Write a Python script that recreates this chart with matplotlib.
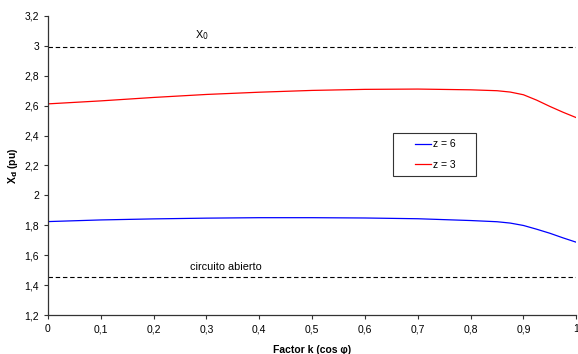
import numpy as np
import matplotlib.pyplot as plt
from matplotlib.patches import Rectangle

plt.rcParams['font.family'] = ['Liberation Sans', 'DejaVu Sans']

k = [0, 0.1, 0.2, 0.3, 0.4, 0.5, 0.6, 0.7, 0.8, 0.85, 0.875, 0.9, 0.925, 0.95, 0.975, 1.0]
xd_z3 = [2.612, 2.632, 2.655, 2.675, 2.690, 2.702, 2.709, 2.711, 2.706, 2.700, 2.691, 2.673, 2.637, 2.595, 2.556, 2.520]
xd_z6 = [1.825, 1.836, 1.843, 1.848, 1.851, 1.851, 1.849, 1.844, 1.832, 1.824, 1.815, 1.799, 1.774, 1.747, 1.716, 1.687]
x0 = 2.995
x_abierto = 1.455

yticks = [1.2, 1.4, 1.6, 1.8, 2.0, 2.2, 2.4, 2.6, 2.8, 3.0, 3.2]
ytick_labels = ['1,2', '1,4', '1,6', '1,8', '2', '2,2', '2,4', '2,6', '2,8', '3', '3,2']
xticks = [0, 0.1, 0.2, 0.3, 0.4, 0.5, 0.6, 0.7, 0.8, 0.9, 1.0]
xtick_labels = ['0', '0,1', '0,2', '0,3', '0,4', '0,5', '0,6', '0,7', '0,8', '0,9', '1']

fig = plt.figure(figsize=(5.78, 3.54), dpi=100)
ax = fig.add_axes([0.083, 0.110, 0.914, 0.845])

ax.plot(k, xd_z6, color='#0000ff', lw=0.9, label='z = 6')
ax.plot(k, xd_z3, color='#ff0000', lw=0.9, label='z = 3')
ax.axhline(x0, color='black', ls=(0, (4, 2.5)), lw=0.8)
ax.axhline(x_abierto, color='black', ls=(0, (4, 2.5)), lw=0.8)

ax.text(0.278, x0 + 0.03, 'X$_0$', fontsize=7.8, ha='left', va='bottom')
ax.text(0.268, x_abierto + 0.03, 'circuito abierto', fontsize=7.8, ha='left', va='bottom')

ax.set_xlim(0, 1)
ax.set_ylim(1.2, 3.2)
ax.set_xticks(xticks)
ax.set_xticklabels(xtick_labels)
ax.set_yticks(yticks)
ax.set_yticklabels(ytick_labels)
ax.tick_params(direction='out', length=3, width=0.8, labelsize=7.5, color='#333333')
for s in ['top', 'right']:
    ax.spines[s].set_visible(False)
for s in ['left', 'bottom']:
    ax.spines[s].set_color('#333333')
    ax.spines[s].set_linewidth(0.9)

ax.set_xlabel('Factor k (cos φ)', fontsize=7.5, fontweight='bold', labelpad=8)
ax.set_ylabel('X$_\\mathbf{d}$ (pu)', fontsize=7.5, fontweight='bold', labelpad=3)

# legend box drawn separately so it can be wider than its contents
ax.add_patch(Rectangle((0.653, 0.465), 0.158, 0.144, transform=ax.transAxes,
                       facecolor='white', edgecolor='#333333', lw=0.8, zorder=4))
leg = ax.legend(loc='center', bbox_to_anchor=(0.733, 0.537), fontsize=7.5,
                frameon=False, handlelength=1.55, handletextpad=0.2,
                labelspacing=1.0, borderpad=0, borderaxespad=0)
leg.set_zorder(5)

plt.savefig('out.png', dpi=100)
